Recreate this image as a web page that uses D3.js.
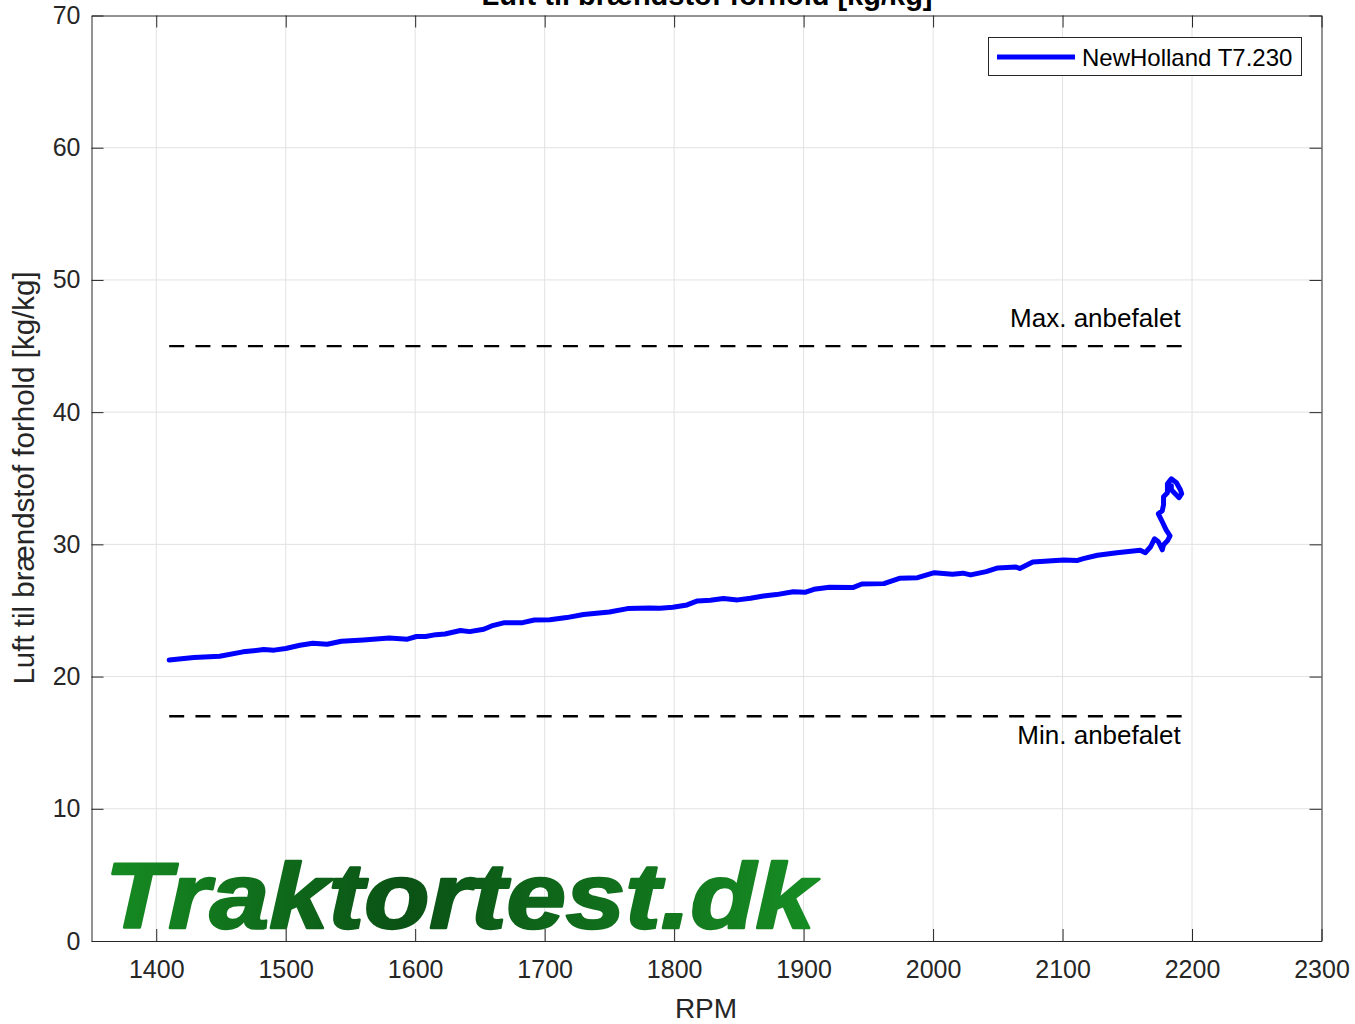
<!DOCTYPE html>
<html>
<head>
<meta charset="utf-8">
<script src="https://cdn.jsdelivr.net/npm/d3@7"></script>
<style>
  body { margin: 0; background: #fff; }
  svg { display: block; font-family: "Liberation Sans", Arial, sans-serif; }
</style>
</head>
<body>
<div id="chart"></div>
<script>
// data
var rpm = [1410, 1429, 1449, 1467, 1483, 1491, 1500, 1511, 1521, 1532, 1543, 1560, 1580, 1594, 1601, 1608,
  1616, 1623, 1635, 1642, 1653, 1659, 1669, 1683, 1692, 1704, 1717, 1730, 1750, 1764, 1781, 1789,
  1799, 1810, 1818, 1828, 1838, 1849, 1859, 1869, 1879, 1892, 1901, 1908, 1920, 1938, 1945, 1962,
  1974, 1988, 2001, 2015, 2023, 2029, 2041, 2050, 2064, 2067, 2077, 2101, 2111, 2116, 2127, 2142,
  2160, 2164, 2168, 2171, 2174, 2177, 2178, 2181, 2183, 2180, 2177, 2174, 2177, 2178, 2178, 2181,
  2181, 2184, 2188, 2191, 2192, 2190, 2187, 2184, 2184];
var afr = [21.26, 21.44, 21.54, 21.87, 22.04, 22.0, 22.12, 22.37, 22.52, 22.45, 22.67, 22.77, 22.92, 22.83, 23.03, 23.03,
  23.17, 23.22, 23.48, 23.40, 23.58, 23.83, 24.08, 24.08, 24.28, 24.30, 24.46, 24.69, 24.89, 25.14, 25.18, 25.17,
  25.24, 25.42, 25.72, 25.77, 25.90, 25.80, 25.93, 26.10, 26.20, 26.42, 26.37, 26.60, 26.76, 26.73, 27.00, 27.03,
  27.43, 27.48, 27.86, 27.74, 27.82, 27.69, 27.94, 28.22, 28.29, 28.17, 28.67, 28.82, 28.77, 28.92, 29.18, 29.37,
  29.55, 29.37, 29.82, 30.42, 30.20, 29.59, 29.97, 30.27, 30.65, 31.10, 31.71, 32.31, 32.54, 32.99, 33.60, 33.90,
  34.58, 34.96, 34.66, 34.13, 33.83, 33.53, 33.83, 34.13, 34.43];
var xTicks = [1400, 1500, 1600, 1700, 1800, 1900, 2000, 2100, 2200, 2300];
var yTicks = [0, 10, 20, 30, 40, 50, 60, 70];
var limitValues = [45, 17];
var limitLabels = ["Max. anbefalet", "Min. anbefalet"];
var seriesName = "NewHolland T7.230";

(function () {
  var W = 1355, H = 1024;
  var pL = 91.5, pR = 1321.5, pT = 15.5, pB = 941;

  var svg = d3.select('#chart').append('svg')
    .attr('width', W).attr('height', H);

  var x = d3.scaleLinear().domain([1350, 2300]).range([pL, pR]);
  var y = d3.scaleLinear().domain([0, 70]).range([pB, pT]);

  // grid
  var grid = svg.append('g').attr('stroke', '#e2e2e2').attr('stroke-width', 1);
  grid.selectAll('.gx').data(xTicks.filter(function (d) { return d < 2300; })).enter().append('line')
    .attr('x1', function (d) { return x(d); }).attr('x2', function (d) { return x(d); })
    .attr('y1', pT).attr('y2', pB);
  grid.selectAll('.gy').data(yTicks.filter(function (d) { return d > 0 && d < 70; })).enter().append('line')
    .attr('x1', pL).attr('x2', pR)
    .attr('y1', function (d) { return y(d); }).attr('y2', function (d) { return y(d); });

  // watermark
  var grad = svg.append('defs').append('linearGradient')
    .attr('id', 'wm').attr('gradientUnits', 'userSpaceOnUse')
    .attr('x1', 104).attr('x2', 820).attr('y1', 0).attr('y2', 0);
  grad.append('stop').attr('offset', 0).attr('stop-color', '#168c22');
  grad.append('stop').attr('offset', 0.42).attr('stop-color', '#0a5215');
  grad.append('stop').attr('offset', 1).attr('stop-color', '#178d23');
  svg.append('text')
    .attr('x', 105).attr('y', 928)
    .attr('textLength', 710).attr('lengthAdjust', 'spacingAndGlyphs')
    .style('font-size', '92px').style('font-weight', 'bold').style('font-style', 'italic')
    .style('fill', 'url(#wm)').style('stroke', 'url(#wm)').style('stroke-width', 2.5)
    .style('stroke-linejoin', 'round')
    .text('Traktortest.dk');

  // axes with inward ticks on all four sides
  function styleAxis(g) {
    g.selectAll('path, line').attr('stroke', '#262626');
    g.selectAll('text').attr('fill', '#262626').style('font-size', '25px')
      .style('font-family', '"Liberation Sans", Arial, sans-serif');
  }
  var fmt = d3.format('d');
  svg.append('g').attr('transform', 'translate(0,' + pB + ')')
    .call(d3.axisBottom(x).tickValues(xTicks).tickFormat(fmt).tickSizeInner(-12).tickSizeOuter(0).tickPadding(14))
    .call(styleAxis)
    .selectAll('text').attr('dy', '0.9em');
  svg.append('g').attr('transform', 'translate(0,' + pT + ')')
    .call(d3.axisTop(x).tickValues(xTicks).tickFormat('').tickSizeInner(-12).tickSizeOuter(0))
    .call(styleAxis);
  svg.append('g').attr('transform', 'translate(' + pL + ',0)')
    .call(d3.axisLeft(y).tickValues(yTicks).tickFormat(fmt).tickSizeInner(-12).tickSizeOuter(0).tickPadding(11))
    .call(styleAxis);
  svg.append('g').attr('transform', 'translate(' + pR + ',0)')
    .call(d3.axisRight(y).tickValues(yTicks).tickFormat('').tickSizeInner(-12).tickSizeOuter(0))
    .call(styleAxis);

  // limit lines, dash pattern fitted so both ends are dashes
  var xMin = d3.min(rpm), xMax = d3.max(rpm);
  var len = x(xMax) - x(xMin), dash = 15;
  var nPer = Math.round((len - dash) / 26);
  var gap = (len - dash) / nPer - dash;
  svg.selectAll('.lim').data(limitValues).enter().append('line')
    .attr('x1', x(xMin)).attr('x2', x(xMax))
    .attr('y1', function (d) { return y(d); }).attr('y2', function (d) { return y(d); })
    .attr('stroke', '#000').attr('stroke-width', 2.3).attr('stroke-dasharray', dash + ',' + gap);
  svg.selectAll('.limtxt').data(limitValues).enter().append('text')
    .attr('x', x(xMax) - 1)
    .attr('y', function (d, i) { return i === 0 ? y(d) - 19 : y(d) + 28; })
    .attr('text-anchor', 'end')
    .style('font-size', '26px').style('fill', '#000')
    .text(function (d, i) { return limitLabels[i]; });

  // series line
  var pts = rpm.map(function (d, i) { return [d, afr[i]]; });
  svg.append('path').datum(pts)
    .attr('d', d3.line().x(function (d) { return x(d[0]); }).y(function (d) { return y(d[1]); }))
    .attr('fill', 'none').attr('stroke', '#0000ff').attr('stroke-width', 5)
    .attr('stroke-linejoin', 'round').attr('stroke-linecap', 'round');

  // legend
  var lg = svg.append('g');
  lg.append('rect').attr('x', 988.5).attr('y', 37.5).attr('width', 313).attr('height', 38)
    .attr('fill', '#fff').attr('stroke', '#262626').attr('stroke-width', 1);
  lg.append('line').attr('x1', 997).attr('x2', 1075).attr('y1', 57).attr('y2', 57)
    .attr('stroke', '#0000ff').attr('stroke-width', 5);
  lg.append('text').attr('x', 1082).attr('y', 65.5)
    .style('font-size', '24px').style('fill', '#000').text(seriesName);

  // title and labels
  svg.append('text').attr('x', 707).attr('y', 5).attr('text-anchor', 'middle')
    .style('font-size', '29px').style('font-weight', 'bold').style('fill', '#000')
    .text('Luft til brændstof forhold [kg/kg]');
  svg.append('text').attr('x', 706).attr('y', 1018).attr('text-anchor', 'middle')
    .style('font-size', '28px').style('fill', '#262626').text('RPM');
  svg.append('text').attr('transform', 'translate(34,478) rotate(-90)').attr('text-anchor', 'middle')
    .style('font-size', '29.5px').style('fill', '#262626')
    .text('Luft til brændstof forhold [kg/kg]');
})();
</script>
</body>
</html>
